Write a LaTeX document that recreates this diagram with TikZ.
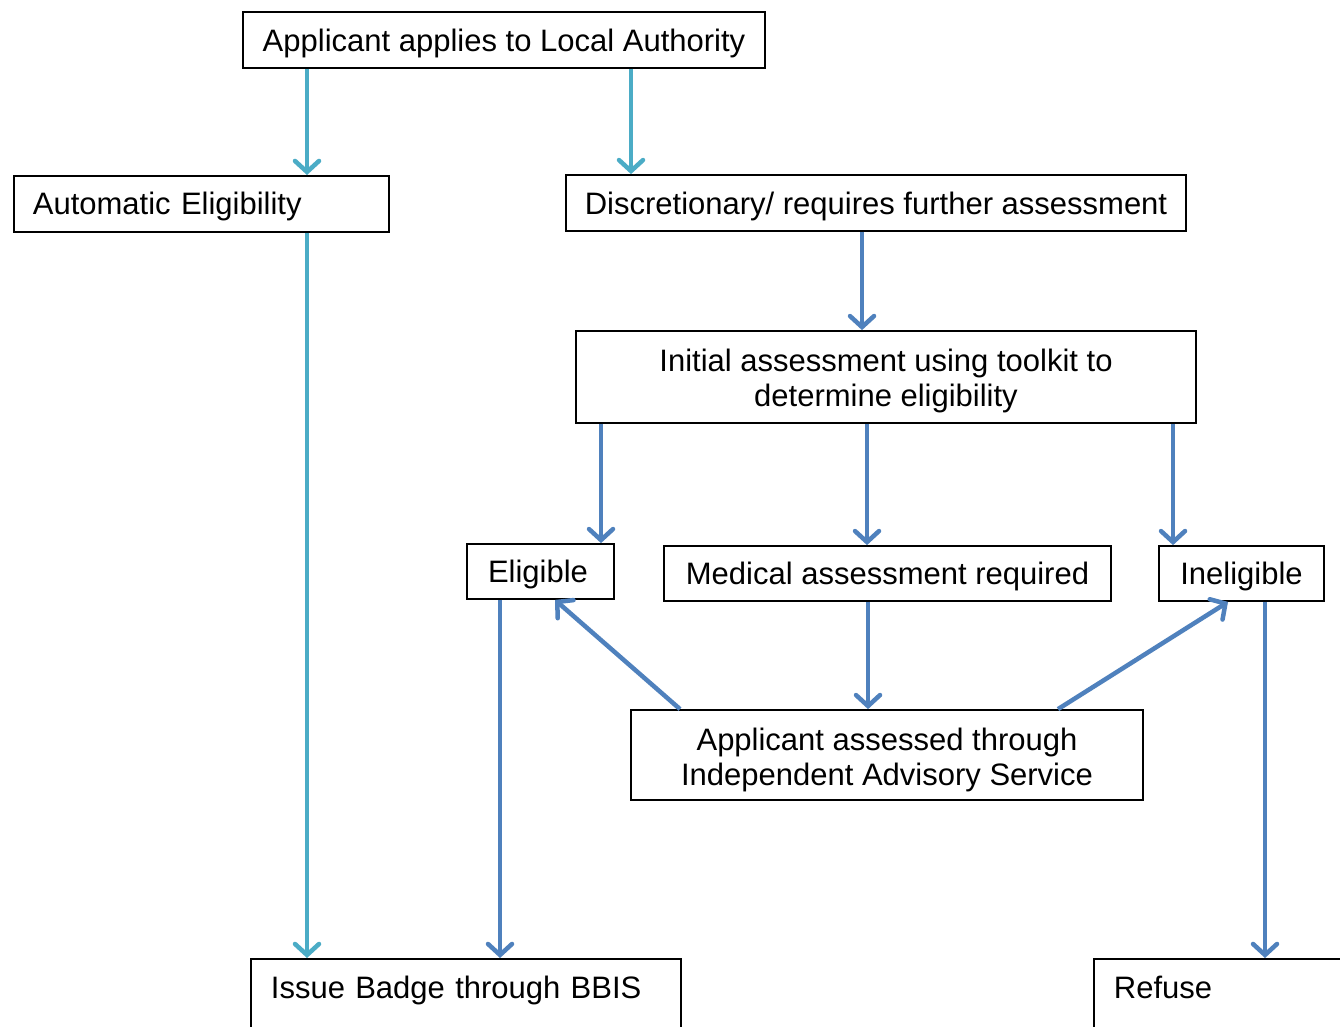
\documentclass[tikz,border=0pt]{standalone}
\usepackage{fontspec}
\setmainfont{Liberation Sans}
\usetikzlibrary{arrows.meta}
\definecolor{tealc}{HTML}{4BACC6}
\definecolor{bluec}{HTML}{4F81BD}
\newcommand{\dn}[2]{\raisebox{-#1}[\height][\depth]{#2}}
\newcommand{\two}[3]{\raisebox{-#1}[\height][\depth]{\begin{tabular}{@{}c@{}}#2\\#3\end{tabular}}}
\begin{document}
\begin{tikzpicture}[x=1pt,y=-1pt,
  box/.style={draw=black, line width=1.8pt, inner sep=0pt, align=center,
    font=\fontsize{31}{35}\selectfont},
  lbox/.style={box, align=left, anchor=north west},
  tarr/.style={draw=tealc, line width=4.5pt, -{Straight Barb[length=11pt,width=24pt,line cap=round]}},
  barr/.style={draw=bluec, line width=4.5pt, -{Straight Barb[length=11pt,width=24pt,line cap=round]}}]
\useasboundingbox (0,0) rectangle (1340,1026);
\clip (0,0) rectangle (1340,1026);
\fill[white] (0,0) rectangle (1340,1026);
% x positions
\foreach \x in {307,631,861,862,601,867,1173,500,868,680,555,1058,1228,1265}
  \coordinate (c\x) at (\x,0);
\node[box, minimum width=522pt, minimum height=56pt] (app) at (504,40) {\dn{3pt}{Applicant applies to Local Authority}};
\node[lbox, minimum width=375pt, minimum height=56pt, inner xsep=19pt, text width=337pt] (auto) at (13,175) {\dn{3pt}{Automatic Eligibility}};
\node[box, minimum width=620pt, minimum height=56pt] (disc) at (876,203) {\dn{3pt}{Discretionary/ requires further assessment}};
\node[box, minimum width=620pt, minimum height=92pt] (init) at (886,377) {\two{4.5pt}{Initial assessment using toolkit to}{determine eligibility}};
\node[box, minimum width=147pt, minimum height=55pt] (elig) at (540.5,571.5) {\dn{3pt}{\hspace*{-5pt}Eligible}};
\node[box, minimum width=447pt, minimum height=55pt] (med) at (887.5,573.5) {\dn{3pt}{Medical assessment required}};
\node[box, minimum width=165pt, minimum height=55pt] (inel) at (1241.5,573.5) {\dn{3pt}{Ineligible}};
\node[box, minimum width=512pt, minimum height=90pt] (ias) at (887,755) {\two{5.5pt}{Applicant assessed through}{Independent Advisory Service}};
\node[lbox, inner xsep=20pt, inner ysep=0pt, text width=390pt, text height=40pt, text depth=100pt] (badge) at (250,958) {Issue Badge through BBIS};
\node[lbox, inner xsep=20pt, inner ysep=0pt, text width=260pt, text height=40pt, text depth=100pt] (refuse) at (1093,958) {Refuse};
% teal arrows
\draw[tarr] (app.south -| c307) -- (auto.north -| c307);
\draw[tarr] (app.south -| c631) -- (disc.north -| c631);
\draw[tarr] (auto.south -| c307) -- (badge.north -| c307);
% blue arrows
\draw[barr] (disc.south -| c862) -- (init.north -| c862);
\draw[barr] (init.south -| c601) -- (elig.north -| c601);
\draw[barr] (init.south -| c867) -- (med.north -| c867);
\draw[barr] (init.south -| c1173) -- (inel.north -| c1173);
\draw[barr] (elig.south -| c500) -- (badge.north -| c500);
\draw[barr] (med.south -| c868) -- (ias.north -| c868);
\draw[barr] (ias.north -| c680) -- (elig.south -| c555);
\draw[barr] (ias.north -| c1058) -- (inel.south -| c1228);
\draw[barr] (inel.south -| c1265) -- (refuse.north -| c1265);
\end{tikzpicture}
\end{document}
